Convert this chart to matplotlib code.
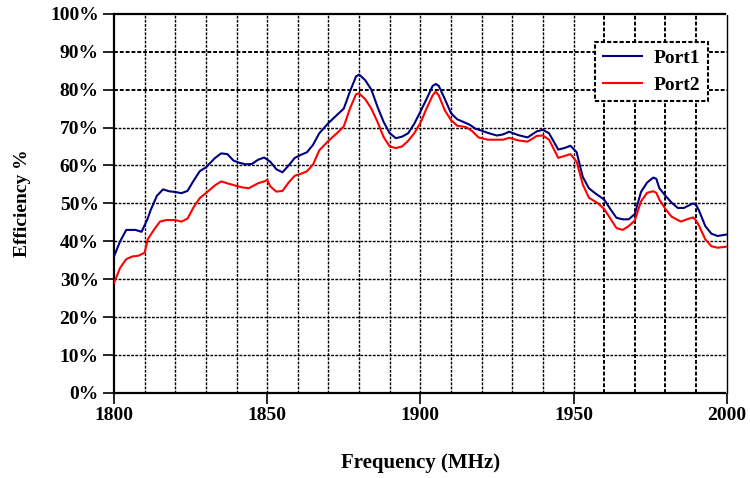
import numpy as np
import matplotlib
matplotlib.use("Agg")
from matplotlib import pyplot as plt

# frequency (MHz) and efficiency (%)
freq1 = [1800, 1802, 1804, 1807, 1809, 1811, 1812, 1814, 1816, 1818, 1820, 1822, 1824,
         1826, 1828, 1830, 1833, 1835, 1837, 1839, 1841, 1843, 1845, 1847, 1849, 1851,
         1853, 1855, 1857, 1859, 1861, 1863, 1865, 1867, 1870, 1873, 1875, 1877, 1879,
         1880, 1882, 1884, 1886, 1888, 1890, 1892, 1894, 1896, 1898, 1900, 1902, 1904,
         1905, 1906, 1908, 1910, 1912, 1914, 1916, 1918, 1920, 1922, 1925, 1927, 1929,
         1932, 1935, 1938, 1940, 1942, 1945, 1947, 1949, 1951, 1953, 1955, 1957, 1960,
         1962, 1964, 1966, 1968, 1970, 1972, 1974, 1976, 1977, 1978, 1980, 1982, 1984,
         1986, 1989, 1990, 1991, 1993, 1995, 1997, 2000]
port1 = [36, 40, 43, 43, 42.5, 46, 48.3, 52, 53.7, 53.2, 53, 52.7, 53.3,
         56, 58.5, 59.5, 62, 63.2, 63, 61.3, 60.7, 60.3, 60.4, 61.5, 62.1, 61,
         59, 58.2, 60, 62, 62.8, 63.5, 65.5, 68.5, 71.2, 73.5, 75, 79.5, 83.5,
         84, 82.5, 80, 75.5, 71.5, 68.5, 67.2, 67.6, 68.5, 71, 74.2, 77.5, 81,
         81.5, 81, 77.5, 73.8, 72.2, 71.5, 70.8, 69.7, 69.2, 68.6, 67.9, 68.2, 68.9,
         68, 67.4, 69, 69.4, 68.5, 64.2, 64.6, 65.2, 63.5, 57, 54, 52.7, 51,
         48.5, 46.2, 45.8, 45.8, 47.2, 53, 55.5, 56.8, 56.5, 54, 52, 50.2, 48.8,
         48.8, 50, 49.6, 48, 44, 42, 41.4, 41.8]

freq2 = [1800, 1802, 1804, 1806, 1808, 1810, 1811, 1813, 1815, 1817, 1820, 1822, 1824,
         1826, 1828, 1830, 1833, 1835, 1837, 1840, 1842, 1844, 1847, 1849, 1850, 1851,
         1853, 1855, 1857, 1859, 1861, 1863, 1865, 1867, 1870, 1873, 1875, 1877, 1879,
         1880, 1882, 1884, 1886, 1888, 1890, 1892, 1894, 1896, 1898, 1900, 1902, 1904,
         1905, 1906, 1908, 1910, 1912, 1915, 1917, 1919, 1922, 1925, 1927, 1929, 1932,
         1935, 1938, 1940, 1942, 1945, 1947, 1949, 1951, 1953, 1955, 1958, 1960, 1962,
         1964, 1966, 1968, 1970, 1972, 1974, 1976, 1977, 1978, 1980, 1982, 1985, 1987,
         1989, 1990, 1991, 1993, 1995, 1997, 2000]
port2 = [29, 33, 35.3, 36, 36.2, 37, 40.5, 43, 45.2, 45.6, 45.6, 45.2, 46,
         49, 51.4, 52.7, 54.8, 55.8, 55.3, 54.6, 54.2, 54, 55.3, 55.8, 56.2, 54.5,
         53.1, 53.3, 55.5, 57.3, 57.8, 58.5, 60.3, 64, 66.5, 68.7, 70.3, 75, 78.8,
         79, 77.5, 75, 71.5, 67.5, 65, 64.6, 65, 66.5, 68.5, 71.2, 75, 78.5,
         79.5, 78.5, 74.5, 72, 70.5, 70.1, 69, 67.4, 66.8, 66.8, 66.8, 67.3, 66.6,
         66.3, 67.8, 67.9, 66.8, 62, 62.5, 63, 61, 55, 51.5, 50, 48.5, 46,
         43.5, 43, 44, 45.5, 50.5, 52.8, 53.2, 52.8, 51, 48.5, 46.5, 45.2, 45.8,
         46.3, 45.5, 44, 40.5, 38.7, 38.3, 38.6]

plt.rcParams["font.family"] = ["Liberation Serif", "DejaVu Serif"]
plt.rcParams["font.weight"] = "bold"

fig = plt.figure(figsize=(7.5, 4.78), dpi=100)
ax = fig.add_axes([0.152, 0.178, 0.817, 0.793])

grid_style = (0, (2.0, 1.0))
for f in range(1810, 2000, 10):
    lw = 1.4 if f in (1960, 1970, 1980, 1990) else 1.0
    ax.axvline(f, color="black", lw=lw, ls=grid_style, zorder=1)
for p in range(10, 100, 10):
    lw = 1.4 if p in (80, 90) else 1.0
    ax.axhline(p, color="black", lw=lw, ls=grid_style, zorder=1)

ax.plot(freq1, port1, color="#000080", lw=1.5, label="Port1", zorder=3)
ax.plot(freq2, port2, color="#ff0000", lw=1.5, label="Port2", zorder=3)

ax.set_xlim(1800, 2000)
ax.set_ylim(0, 100)
ax.set_xticks([1800, 1850, 1900, 1950, 2000])
ax.set_yticks(range(0, 101, 10))
ax.set_yticklabels([f"{v}%" for v in range(0, 101, 10)])
ax.tick_params(direction="out", length=8, width=1.2, labelsize=14, pad=3)
ax.tick_params(axis="x", pad=2)

for side, sp in ax.spines.items():
    sp.set_linestyle(grid_style)
    sp.set_color("black")
    sp.set_linewidth(1.6 if side in ("left", "bottom", "top") else 1.0)

ax.set_xlabel("Frequency (MHz)", fontsize=15, fontweight="bold", labelpad=21)
ax.set_ylabel("Efficiency %", fontsize=14, fontweight="bold", labelpad=14)

leg = ax.legend(loc="upper right", bbox_to_anchor=(0.969, 0.926), fancybox=False,
                frameon=True, edgecolor="black", fontsize=14, handlelength=2.0,
                borderpad=0.4, labelspacing=0.45, handletextpad=0.6,
                borderaxespad=0)
leg.get_frame().set_linewidth(1.5)
leg.get_frame().set_linestyle(grid_style)
leg.get_frame().set_alpha(1)
leg.set_zorder(5)

fig.savefig("out.png", dpi=100)
